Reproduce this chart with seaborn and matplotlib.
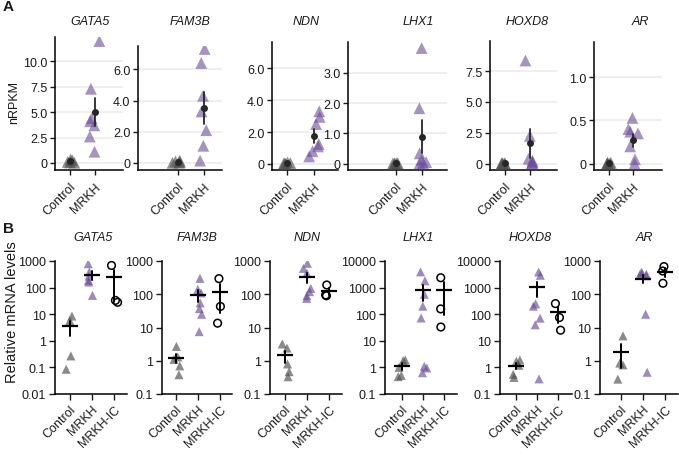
import numpy as np
import pandas as pd
import seaborn as sns
import matplotlib.pyplot as plt

genes = ['GATA5', 'FAM3B', 'NDN', 'LHX1', 'HOXD8', 'AR']
groups_a = ['Control', 'MRKH']
groups_b = ['Control', 'MRKH', 'MRKH-IC']

# panel A: nRPKM per sample
a_ctrl_gata5 = [0.35, 0.25, 0.1, 0.05, 0.02]
a_mrkh_gata5 = [12.0, 7.3, 4.4, 4.1, 3.7, 2.6, 1.1]
a_ctrl_fam3b = [0.15, 0.1, 0.05, 0.02, 0.01]
a_mrkh_fam3b = [7.3, 6.4, 4.3, 3.3, 2.1, 1.1, 0.15]
a_ctrl_ndn = [0.1, 0.06, 0.04, 0.02, 0.01]
a_mrkh_ndn = [3.3, 2.95, 2.5, 1.25, 1.1, 0.8, 0.47]
a_ctrl_lhx1 = [0.02, 0.01, 0.01, 0.005, 0.0]
a_mrkh_lhx1 = [3.82, 1.83, 0.34, 0.12, 0.05, 0.02, 0.01]
a_ctrl_hoxd8 = [0.05, 0.03, 0.02, 0.01, 0.0]
a_mrkh_hoxd8 = [8.35, 2.25, 0.4, 0.25, 0.15, 0.06, 0.04]
a_ctrl_ar = [0.01, 0.01, 0.005, 0.002, 0.0]
a_mrkh_ar = [0.53, 0.40, 0.37, 0.35, 0.20, 0.05, 0.0]

a_ticks_gata5 = [0, 2.5, 5.0, 7.5, 10.0]
a_labels_gata5 = ['0', '2.5', '5.0', '7.5', '10.0']
a_ticks_fam3b = [0, 2.0, 4.0, 6.0]
a_labels_fam3b = ['0', '2.0', '4.0', '6.0']
a_ticks_ndn = [0, 2.0, 4.0, 6.0]
a_labels_ndn = ['0', '2.0', '4.0', '6.0']
a_ticks_lhx1 = [0, 1.0, 2.0, 3.0]
a_labels_lhx1 = ['0', '1.0', '2.0', '3.0']
a_ticks_hoxd8 = [0, 2.5, 5.0, 7.5]
a_labels_hoxd8 = ['0', '2.5', '5.0', '7.5']
a_ticks_ar = [0, 0.5, 1.0]
a_labels_ar = ['0', '0.5', '1.0']

# panel B: relative mRNA levels (qPCR)
b_ctrl_gata5 = [8.5, 5.8, 0.27, 0.085]
b_mrkh_gata5 = [790, 390, 270, 187, 162, 51]
b_ic_gata5 = [680, 28, 33]
b_ctrl_fam3b = [2.7, 1.3, 1.1, 0.7, 0.38]
b_mrkh_fam3b = [300, 140, 110, 55, 37, 25, 7.5]
b_ic_fam3b = [295, 43, 13.5]
b_ctrl_ndn = [3.2, 2.4, 0.8, 0.47, 0.33]
b_mrkh_ndn = [850, 600, 430, 150, 120, 90, 75]
b_ic_ndn = [190, 90, 95]
b_ctrl_lhx1 = [1.9, 1.8, 1.0, 0.5, 0.45]
b_mrkh_lhx1 = [3900, 1800, 560, 200, 72, 1.1, 0.95, 0.63]
b_ic_lhx1 = [2350, 158, 33]
b_ctrl_hoxd8 = [1.9, 1.7, 1.2, 0.55, 0.42]
b_mrkh_hoxd8 = [3870, 2900, 245, 200, 71, 40, 0.37]
b_ic_hoxd8 = [250, 75, 25]
b_ctrl_ar = [5.6, 0.85, 0.75, 0.28]
b_mrkh_ar = [460, 430, 400, 390, 360, 25, 0.45]
b_ic_ar = [680, 500, 214]

b_ticks = [0.01, 0.1, 1, 10, 100, 1000, 10000]
b_labels = ['0.01', '0.1', '1', '10', '100', '1000', '10000']

a_data = {
    'GATA5': (a_ctrl_gata5, a_mrkh_gata5, a_ticks_gata5, a_labels_gata5),
    'FAM3B': (a_ctrl_fam3b, a_mrkh_fam3b, a_ticks_fam3b, a_labels_fam3b),
    'NDN': (a_ctrl_ndn, a_mrkh_ndn, a_ticks_ndn, a_labels_ndn),
    'LHX1': (a_ctrl_lhx1, a_mrkh_lhx1, a_ticks_lhx1, a_labels_lhx1),
    'HOXD8': (a_ctrl_hoxd8, a_mrkh_hoxd8, a_ticks_hoxd8, a_labels_hoxd8),
    'AR': (a_ctrl_ar, a_mrkh_ar, a_ticks_ar, a_labels_ar),
}
b_data = {
    'GATA5': (b_ctrl_gata5, b_mrkh_gata5, b_ic_gata5),
    'FAM3B': (b_ctrl_fam3b, b_mrkh_fam3b, b_ic_fam3b),
    'NDN': (b_ctrl_ndn, b_mrkh_ndn, b_ic_ndn),
    'LHX1': (b_ctrl_lhx1, b_mrkh_lhx1, b_ic_lhx1),
    'HOXD8': (b_ctrl_hoxd8, b_mrkh_hoxd8, b_ic_hoxd8),
    'AR': (b_ctrl_ar, b_mrkh_ar, b_ic_ar),
}

# layout in pixels: left, top, right, control x, mrkh x, title x
lay_a = {
    'GATA5': (55, 38, 123, 70, 95, 90),
    'FAM3B': (138, 47, 222, 178, 204, 190),
    'NDN': (272, 43, 338, 287, 314, 306),
    'LHX1': (348, 43, 447, 396, 422, 418),
    'HOXD8': (490, 42, 557, 505, 530, 527),
    'AR': (594, 43, 662, 609, 633, 640),
}
ylim_a = {'GATA5': (-0.7, 12.4), 'FAM3B': (-0.45, 7.49), 'NDN': (-0.38, 7.65),
          'LHX1': (-0.21, 4.02), 'HOXD8': (-0.51, 9.93), 'AR': (-0.074, 1.41)}
# left, right, control x, mrkh x, title x
lay_b = {
    'GATA5': (55, 127, 70, 92, 93),
    'FAM3B': (162, 232, 176, 198, 197),
    'NDN': (270, 342, 285, 307, 307),
    'LHX1': (385, 457, 402, 423, 418),
    'HOXD8': (500, 572, 516, 537, 530),
    'AR': (600, 678, 621, 643, 644),
}
ylim_b = {'GATA5': (0.01, 1000), 'FAM3B': (0.1, 1000), 'NDN': (0.1, 1000),
          'LHX1': (0.1, 10000), 'HOXD8': (0.1, 10000), 'AR': (0.1, 1000)}

sns.set_style('ticks')
plt.rcParams['font.family'] = ['Liberation Sans', 'DejaVu Sans']
plt.rcParams['text.color'] = '#1a1a1a'

gray = '#4d4d4d'
purple = '#6b4c9a'
W, H = 679, 456
fig = plt.figure(figsize=(W / 100, H / 100), dpi=100)


def add_ax(left, top, right, bottom):
    return fig.add_axes([left / W, 1 - bottom / H, (right - left) / W, (bottom - top) / H])


def style_ax(ax, labels):
    ax.spines[['top', 'right']].set_visible(False)
    for s in ['left', 'bottom']:
        ax.spines[s].set_linewidth(1.1)
        ax.spines[s].set_color('black')
    ax.tick_params(length=3.5, width=1, labelsize=9, colors='#1a1a1a', pad=2)
    ax.set_xticks(range(len(labels)))
    ax.set_xticklabels(labels, rotation=45, ha='right', va='top', rotation_mode='anchor')
    ax.set_xlabel('')
    ax.set_ylabel('')


np.random.seed(3)

# ---- A ----
for g in genes:
    ctrl, mrkh, ticks, labels = a_data[g]
    left, top, right, cx, mx, tx = lay_a[g]
    ax = add_ax(left, top, right, 171)
    df = pd.DataFrame({'group': ['Control'] * len(ctrl) + ['MRKH'] * len(mrkh),
                       'value': ctrl + mrkh})
    sns.stripplot(data=df, x='group', y='value', hue='group', order=groups_a,
                  palette={'Control': gray, 'MRKH': purple}, marker='^', size=8.5,
                  alpha=0.6, linewidth=0, jitter=0.22, legend=False, ax=ax)
    sns.pointplot(data=df, x='group', y='value', order=groups_a, errorbar='se',
                  color='#262626', marker='o', markersize=5, markeredgewidth=0,
                  linestyle='none', zorder=5,
                  err_kws={'linewidth': 1.3, 'zorder': 5}, ax=ax)
    unit = mx - cx
    ax.set_xlim((left - cx) / unit, (right - cx) / unit)
    ax.set_ylim(*ylim_a[g])
    ax.set_yticks(ticks)
    ax.set_yticklabels(labels)
    style_ax(ax, groups_a)
    ax.tick_params(axis='x', pad=4)
    ax.yaxis.grid(True, color='#ebebeb', linewidth=1.1)
    ax.set_axisbelow(True)
    fig.text(tx / W, 1 - 22 / H, g, style='italic', fontsize=9, ha='center', va='center')

# ---- B ----
for g in genes:
    ctrl, mrkh, ic = b_data[g]
    left, right, cx, mx, tx = lay_b[g]
    ax = add_ax(left, 262, right, 395)
    df = pd.DataFrame({'group': ['Control'] * len(ctrl) + ['MRKH'] * len(mrkh) + ['MRKH-IC'] * len(ic),
                       'value': ctrl + mrkh + ic})
    tri = df[df['group'] != 'MRKH-IC']
    circ = df[df['group'] == 'MRKH-IC']
    sns.stripplot(data=tri, x='group', y='value', hue='group', order=groups_b,
                  palette={'Control': gray, 'MRKH': purple}, marker='^', size=6.5,
                  alpha=0.65, linewidth=0, jitter=0.2, legend=False, ax=ax)
    sns.stripplot(data=circ, x='group', y='value', order=groups_b, marker='o',
                  size=5.5, color='black', facecolor='none', edgecolor='black',
                  linewidth=1.1, jitter=0.18, ax=ax)
    sns.pointplot(data=df, x='group', y='value', order=groups_b, errorbar='se',
                  color='black', marker='_', markersize=12, markeredgewidth=1.6,
                  linestyle='none', zorder=5,
                  err_kws={'linewidth': 1.4, 'zorder': 5}, ax=ax)
    ax.set_yscale('log')
    unit = mx - cx
    ax.set_xlim((left - cx) / unit, (right - cx) / unit)
    lo, hi = ylim_b[g]
    ax.set_ylim(lo, hi)
    ax.set_yticks([t for t in b_ticks if lo <= t <= hi])
    ax.set_yticklabels([l for t, l in zip(b_ticks, b_labels) if lo <= t <= hi])
    ax.minorticks_off()
    style_ax(ax, groups_b)
    ax.tick_params(length=4.5)
    fig.text(tx / W, 1 - 238 / H, g, style='italic', fontsize=9, ha='center', va='center')

fig.text(8 / W, 1 - 7 / H, 'A', fontsize=11, weight='bold', ha='center', va='center')
fig.text(9 / W, 1 - 229 / H, 'B', fontsize=11, weight='bold', ha='center', va='center')
fig.text(14 / W, 1 - 103 / H, 'nRPKM', fontsize=9, rotation=90, ha='center', va='center')
fig.text(12.5 / W, 1 - 312 / H, 'Relative mRNA levels', fontsize=10.5, rotation=90,
         ha='center', va='center')

fig.savefig('out.png', dpi=100)
